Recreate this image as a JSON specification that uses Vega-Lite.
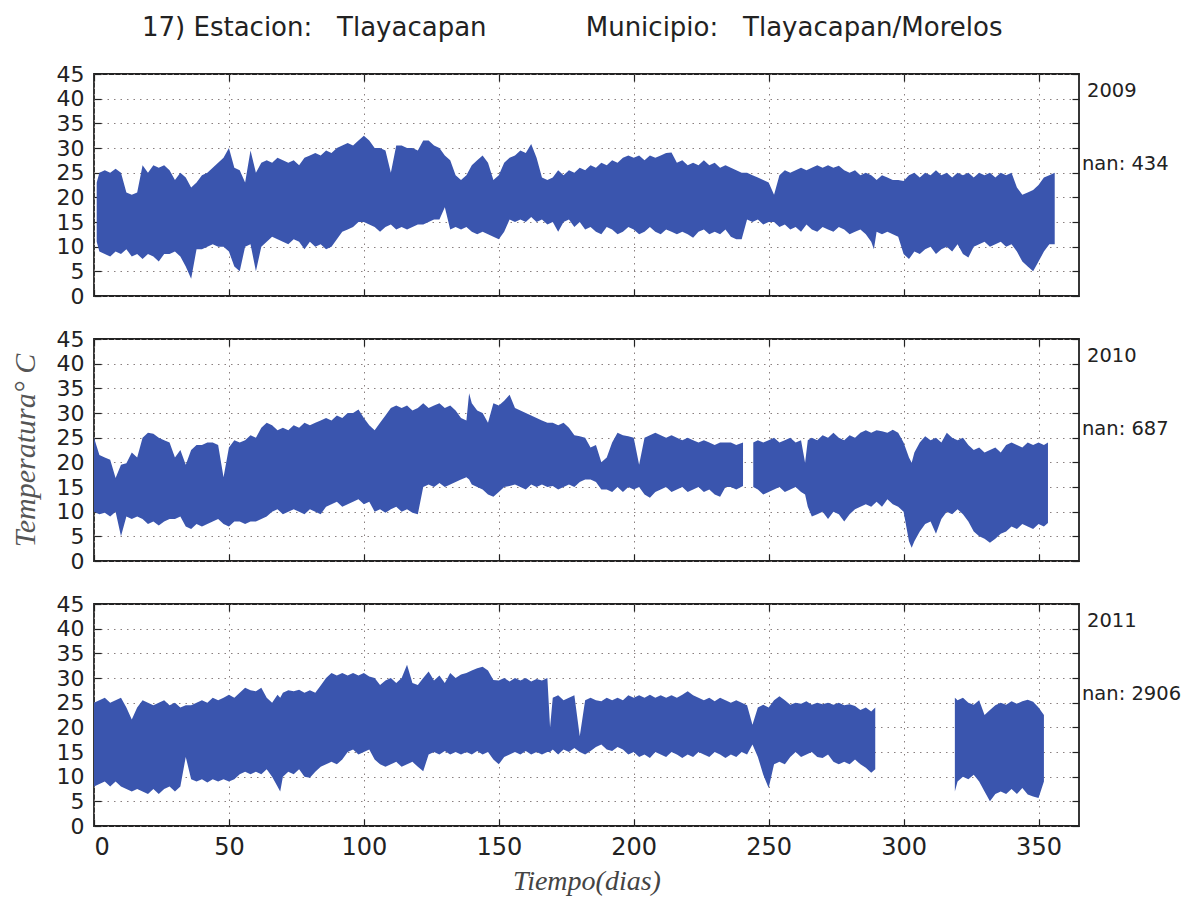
{
  "$schema": "https://vega.github.io/schema/vega-lite/v6.json",
  "padding": {"left": 9, "top": 15, "right": 5, "bottom": 2},
  "background": "white",
  "title": {
    "text": "17) Estacion:\u00a0\u00a0\u00a0Tlayacapan\u00a0\u00a0\u00a0\u00a0\u00a0\u00a0\u00a0\u00a0\u00a0\u00a0\u00a0\u00a0Municipio:\u00a0\u00a0\u00a0Tlayacapan/Morelos",
    "font": "DejaVu Sans",
    "fontSize": 26,
    "fontWeight": "normal",
    "color": "#222",
    "anchor": "start",
    "frame": "group",
    "dx": 48,
    "offset": 21
  },
  "spacing": 19,
  "config": {
    "view": {"stroke": "#222", "strokeWidth": 1.8},
    "axis": {
      "labelFont": "DejaVu Sans",
      "labelFontSize": 24,
      "labelColor": "#222",
      "tickColor": "#222",
      "tickWidth": 1.2,
      "gridColor": "#8a8080",
      "gridDash": [1.5, 5],
      "gridWidth": 1,
      "gridOpacity": 1,
      "domain": false
    }
  },
  "vconcat": [
    {
      "width": 985,
      "height": 222,
      "resolve": {"axis": {"x": "independent", "y": "independent"}},
      "layer": [
        {
          "data": {"values": [
{"d":1,"lo":11,"hi":23},{"d":2,"lo":9,"hi":25},{"d":4,"lo":8.5,"hi":25.5},{"d":6,"lo":8,"hi":25},{"d":8,"lo":9,"hi":25.8},{"d":10,"lo":8.5,"hi":25},{"d":12,"lo":9.5,"hi":21},{"d":14,"lo":8,"hi":20.5},{"d":16,"lo":8.5,"hi":21},{"d":18,"lo":7.5,"hi":26.5},{"d":20,"lo":8.5,"hi":25},{"d":22,"lo":8,"hi":26.5},{"d":24,"lo":7,"hi":26},{"d":26,"lo":8.5,"hi":26.5},{"d":28,"lo":8.5,"hi":25.5},{"d":30,"lo":9,"hi":23.5},{"d":32,"lo":8,"hi":25},{"d":34,"lo":6,"hi":24},{"d":36,"lo":3.5,"hi":22},{"d":38,"lo":9.5,"hi":23},{"d":40,"lo":9.5,"hi":24.5},{"d":42,"lo":10,"hi":25},{"d":44,"lo":10.5,"hi":26},{"d":46,"lo":10,"hi":27},{"d":48,"lo":10,"hi":28},{"d":50,"lo":9,"hi":30},{"d":52,"lo":6,"hi":26},{"d":54,"lo":5,"hi":25.5},{"d":56,"lo":10,"hi":23},{"d":58,"lo":10.5,"hi":29.5},{"d":60,"lo":5,"hi":25},{"d":62,"lo":10,"hi":27},{"d":64,"lo":11,"hi":27.5},{"d":66,"lo":12,"hi":27},{"d":68,"lo":11.5,"hi":28},{"d":70,"lo":11,"hi":27.5},{"d":72,"lo":10.5,"hi":27},{"d":74,"lo":11.5,"hi":27.5},{"d":76,"lo":11,"hi":26.5},{"d":78,"lo":9.5,"hi":28},{"d":80,"lo":11,"hi":28.5},{"d":82,"lo":10,"hi":29},{"d":84,"lo":10.5,"hi":28.5},{"d":86,"lo":9.5,"hi":29.5},{"d":88,"lo":10,"hi":29},{"d":90,"lo":11.5,"hi":30},{"d":92,"lo":13,"hi":30.5},{"d":94,"lo":13.5,"hi":31},{"d":96,"lo":14,"hi":30.5},{"d":98,"lo":15,"hi":31.5},{"d":100,"lo":15,"hi":32.5},{"d":102,"lo":14.5,"hi":31.5},{"d":104,"lo":14,"hi":30},{"d":106,"lo":13,"hi":30},{"d":108,"lo":14,"hi":29.5},{"d":110,"lo":14.5,"hi":25},{"d":112,"lo":13.5,"hi":30.5},{"d":114,"lo":14,"hi":30.5},{"d":116,"lo":13.5,"hi":30},{"d":118,"lo":14,"hi":30},{"d":120,"lo":14.5,"hi":29.5},{"d":122,"lo":14.5,"hi":31.5},{"d":124,"lo":15,"hi":31.5},{"d":126,"lo":15.5,"hi":30.5},{"d":128,"lo":15.5,"hi":30},{"d":130,"lo":18,"hi":28.5},{"d":132,"lo":13.5,"hi":27.5},{"d":134,"lo":14,"hi":24.5},{"d":136,"lo":13.5,"hi":23.5},{"d":138,"lo":14,"hi":24.5},{"d":140,"lo":13,"hi":26.5},{"d":142,"lo":12.5,"hi":27.5},{"d":144,"lo":13,"hi":28.5},{"d":146,"lo":12.5,"hi":27},{"d":148,"lo":12,"hi":23.5},{"d":150,"lo":11.5,"hi":24.5},{"d":152,"lo":13,"hi":27},{"d":154,"lo":15.5,"hi":28},{"d":156,"lo":15,"hi":28.5},{"d":158,"lo":15.5,"hi":29.5},{"d":160,"lo":15,"hi":29},{"d":162,"lo":16,"hi":30.8},{"d":164,"lo":15,"hi":28},{"d":166,"lo":15.5,"hi":24},{"d":168,"lo":14.5,"hi":23.5},{"d":170,"lo":15,"hi":24},{"d":172,"lo":13,"hi":25.5},{"d":174,"lo":15,"hi":24.5},{"d":176,"lo":15.5,"hi":25.5},{"d":178,"lo":14,"hi":25},{"d":180,"lo":15,"hi":26},{"d":182,"lo":13.5,"hi":25.5},{"d":184,"lo":14,"hi":26.5},{"d":186,"lo":13,"hi":26},{"d":188,"lo":12.5,"hi":27},{"d":190,"lo":14,"hi":26.5},{"d":192,"lo":13.5,"hi":27.5},{"d":194,"lo":12.5,"hi":27},{"d":196,"lo":13,"hi":28},{"d":198,"lo":14,"hi":28.5},{"d":200,"lo":13.5,"hi":28},{"d":202,"lo":12.5,"hi":28.5},{"d":204,"lo":13,"hi":27.5},{"d":206,"lo":14,"hi":28.5},{"d":208,"lo":13,"hi":28},{"d":210,"lo":12.5,"hi":28.5},{"d":212,"lo":13.5,"hi":29},{"d":214,"lo":13,"hi":29.1},{"d":216,"lo":12.5,"hi":27},{"d":218,"lo":13,"hi":27.5},{"d":220,"lo":12.5,"hi":26.5},{"d":222,"lo":11.8,"hi":27},{"d":224,"lo":13,"hi":26.5},{"d":226,"lo":13.5,"hi":27.5},{"d":228,"lo":12.5,"hi":26.5},{"d":230,"lo":13,"hi":27},{"d":232,"lo":12.5,"hi":26},{"d":234,"lo":13.5,"hi":26.5},{"d":236,"lo":12,"hi":26},{"d":238,"lo":11.5,"hi":25.5},{"d":240,"lo":11.5,"hi":25},{"d":242,"lo":15.5,"hi":25},{"d":244,"lo":15,"hi":24.5},{"d":246,"lo":15.5,"hi":24},{"d":248,"lo":14.5,"hi":23.5},{"d":250,"lo":15,"hi":23},{"d":252,"lo":15,"hi":20.5},{"d":254,"lo":14,"hi":24.5},{"d":256,"lo":14.5,"hi":25.5},{"d":258,"lo":13.5,"hi":25},{"d":260,"lo":14,"hi":25.5},{"d":262,"lo":13,"hi":26},{"d":264,"lo":14.5,"hi":25.5},{"d":266,"lo":13.5,"hi":26},{"d":268,"lo":13,"hi":26.5},{"d":270,"lo":14,"hi":26},{"d":272,"lo":13.5,"hi":26.5},{"d":274,"lo":13,"hi":26},{"d":276,"lo":14,"hi":26.4},{"d":278,"lo":13.5,"hi":25.5},{"d":280,"lo":12.5,"hi":25},{"d":282,"lo":13,"hi":25.5},{"d":284,"lo":13.5,"hi":24.5},{"d":286,"lo":12.5,"hi":25},{"d":288,"lo":11,"hi":24.5},{"d":289,"lo":9.5,"hi":24},{"d":290,"lo":13,"hi":23.5},{"d":292,"lo":12.5,"hi":24.5},{"d":294,"lo":13,"hi":24},{"d":296,"lo":12.5,"hi":23.5},{"d":298,"lo":12,"hi":23.5},{"d":300,"lo":8.5,"hi":23.3},{"d":302,"lo":7.5,"hi":24.5},{"d":304,"lo":9,"hi":25},{"d":306,"lo":8.5,"hi":24},{"d":308,"lo":9.5,"hi":25},{"d":310,"lo":10,"hi":24.5},{"d":312,"lo":8.5,"hi":25.5},{"d":314,"lo":9.5,"hi":24.5},{"d":316,"lo":10,"hi":25},{"d":318,"lo":9,"hi":24},{"d":320,"lo":10.5,"hi":25},{"d":322,"lo":8.5,"hi":24.5},{"d":324,"lo":7.8,"hi":25},{"d":326,"lo":10,"hi":24},{"d":328,"lo":10.5,"hi":25},{"d":330,"lo":11,"hi":24.5},{"d":332,"lo":10,"hi":25},{"d":334,"lo":10.5,"hi":24},{"d":336,"lo":11,"hi":25},{"d":338,"lo":10,"hi":24.5},{"d":340,"lo":10.5,"hi":25},{"d":342,"lo":9,"hi":22},{"d":344,"lo":7,"hi":20.5},{"d":346,"lo":6,"hi":21},{"d":348,"lo":5,"hi":21.5},{"d":350,"lo":7,"hi":22.5},{"d":352,"lo":9,"hi":24},{"d":354,"lo":10.5,"hi":24.5},{"d":356,"lo":10.5,"hi":25}
          ]},
          "mark": {"type": "area", "color": "#3a55ae", "opacity": 1},
          "encoding": {
            "x": {"field": "d", "type": "quantitative", "scale": {"domain": [0, 365], "nice": false, "zero": false},
                  "axis": {"values": [0,50,100,150,200,250,300,350], "labels": false, "tickSize": -7, "grid": true, "title": null}},
            "y": {"field": "lo", "type": "quantitative", "scale": {"domain": [0, 45], "nice": false},
                  "axis": {"values": [0,5,10,15,20,25,30,35,40,45], "tickSize": -7, "labelPadding": 17, "labelFontSize": 22, "grid": true, "title": null}},
            "y2": {"field": "hi"}
          }
        },
        {
          "data": {"values": [{"t": "2009", "v": 41.5}]},
          "mark": {"type": "text", "align": "left", "baseline": "middle", "dx": 8, "font": "DejaVu Sans", "fontSize": 19.5, "color": "#222"},
          "encoding": {
            "x": {"datum": 365, "type": "quantitative", "axis": {"orient": "top", "labels": false, "grid": false, "tickSize": -7, "values": [0,50,100,150,200,250,300,350], "title": null}},
            "y": {"field": "v", "type": "quantitative", "axis": {"orient": "right", "labels": false, "grid": false, "tickSize": -7, "values": [0,5,10,15,20,25,30,35,40,45], "title": null}},
            "text": {"field": "t"}
          }
        },
        {
          "data": {"values": [{"t": "nan: 434", "v": 26.7}]},
          "mark": {"type": "text", "align": "left", "baseline": "middle", "dx": 3, "font": "DejaVu Sans", "fontSize": 19.5, "color": "#222"},
          "encoding": {
            "x": {"datum": 365, "type": "quantitative", "axis": null},
            "y": {"field": "v", "type": "quantitative", "axis": null},
            "text": {"field": "t"}
          }
        }
      ]
    },
    {
      "width": 985,
      "height": 222,
      "resolve": {"axis": {"x": "independent", "y": "independent"}},
      "layer": [
        {
          "data": {"values": [
{"d":0,"lo":10,"hi":25,"s":1},{"d":2,"lo":9.5,"hi":21.5,"s":1},{"d":4,"lo":9.8,"hi":21,"s":1},{"d":6,"lo":9,"hi":20.5,"s":1},{"d":8,"lo":10,"hi":16.8,"s":1},{"d":10,"lo":5,"hi":19.5,"s":1},{"d":12,"lo":9,"hi":19.8,"s":1},{"d":14,"lo":8.5,"hi":22,"s":1},{"d":16,"lo":9,"hi":21,"s":1},{"d":18,"lo":8.5,"hi":25,"s":1},{"d":20,"lo":7.5,"hi":26,"s":1},{"d":22,"lo":8,"hi":25.8,"s":1},{"d":24,"lo":7.2,"hi":25,"s":1},{"d":26,"lo":8,"hi":24.5,"s":1},{"d":28,"lo":8.5,"hi":24,"s":1},{"d":30,"lo":8.5,"hi":21,"s":1},{"d":32,"lo":9,"hi":22.5,"s":1},{"d":34,"lo":7,"hi":19.5,"s":1},{"d":36,"lo":6.5,"hi":22.5,"s":1},{"d":38,"lo":7.5,"hi":23.5,"s":1},{"d":40,"lo":7,"hi":23.5,"s":1},{"d":42,"lo":7.5,"hi":24,"s":1},{"d":44,"lo":8,"hi":24,"s":1},{"d":46,"lo":8.5,"hi":23.5,"s":1},{"d":48,"lo":7.5,"hi":17,"s":1},{"d":50,"lo":7,"hi":23,"s":1},{"d":52,"lo":8,"hi":24.5,"s":1},{"d":54,"lo":8,"hi":24,"s":1},{"d":56,"lo":7.5,"hi":24.5,"s":1},{"d":58,"lo":8,"hi":25.5,"s":1},{"d":60,"lo":8,"hi":25,"s":1},{"d":62,"lo":8.5,"hi":27,"s":1},{"d":64,"lo":9,"hi":28,"s":1},{"d":66,"lo":10,"hi":27.5,"s":1},{"d":68,"lo":10.5,"hi":26.5,"s":1},{"d":70,"lo":9.5,"hi":27,"s":1},{"d":72,"lo":10,"hi":26.5,"s":1},{"d":74,"lo":10.5,"hi":27.5,"s":1},{"d":76,"lo":10,"hi":27,"s":1},{"d":78,"lo":9.5,"hi":28,"s":1},{"d":80,"lo":10.5,"hi":27.5,"s":1},{"d":82,"lo":10,"hi":28,"s":1},{"d":84,"lo":9.5,"hi":28.5,"s":1},{"d":86,"lo":11,"hi":29,"s":1},{"d":88,"lo":11.5,"hi":28.5,"s":1},{"d":90,"lo":12,"hi":29.5,"s":1},{"d":92,"lo":11,"hi":29,"s":1},{"d":94,"lo":11.5,"hi":30,"s":1},{"d":96,"lo":12,"hi":30,"s":1},{"d":98,"lo":12.5,"hi":30.7,"s":1},{"d":100,"lo":11.5,"hi":29,"s":1},{"d":102,"lo":12,"hi":27.5,"s":1},{"d":104,"lo":10,"hi":26.5,"s":1},{"d":106,"lo":10.5,"hi":28,"s":1},{"d":108,"lo":9.8,"hi":29.5,"s":1},{"d":110,"lo":10.5,"hi":31,"s":1},{"d":112,"lo":11,"hi":31.5,"s":1},{"d":114,"lo":10,"hi":31,"s":1},{"d":116,"lo":10.5,"hi":31.5,"s":1},{"d":118,"lo":9.8,"hi":30.5,"s":1},{"d":120,"lo":9.5,"hi":31,"s":1},{"d":122,"lo":15,"hi":32,"s":1},{"d":124,"lo":15.5,"hi":31,"s":1},{"d":126,"lo":15,"hi":31.5,"s":1},{"d":128,"lo":15.8,"hi":32,"s":1},{"d":130,"lo":15,"hi":31,"s":1},{"d":132,"lo":15.5,"hi":31.5,"s":1},{"d":134,"lo":16,"hi":30.5,"s":1},{"d":136,"lo":16.5,"hi":29,"s":1},{"d":138,"lo":17,"hi":28.5,"s":1},{"d":139,"lo":16.5,"hi":34,"s":1},{"d":140,"lo":15.5,"hi":32,"s":1},{"d":142,"lo":15,"hi":30.5,"s":1},{"d":144,"lo":14.5,"hi":30,"s":1},{"d":146,"lo":13.5,"hi":28,"s":1},{"d":148,"lo":13,"hi":32,"s":1},{"d":150,"lo":14,"hi":31.5,"s":1},{"d":152,"lo":15,"hi":32.5,"s":1},{"d":154,"lo":15.2,"hi":33.7,"s":1},{"d":156,"lo":15.5,"hi":31,"s":1},{"d":158,"lo":15,"hi":30.5,"s":1},{"d":160,"lo":14.5,"hi":30,"s":1},{"d":162,"lo":15.5,"hi":29.5,"s":1},{"d":164,"lo":15,"hi":29,"s":1},{"d":166,"lo":15.5,"hi":28.5,"s":1},{"d":168,"lo":15,"hi":28,"s":1},{"d":170,"lo":15.2,"hi":28,"s":1},{"d":172,"lo":14.5,"hi":27.5,"s":1},{"d":174,"lo":15,"hi":28,"s":1},{"d":176,"lo":15.5,"hi":27,"s":1},{"d":178,"lo":15,"hi":25.5,"s":1},{"d":180,"lo":16,"hi":25.3,"s":1},{"d":182,"lo":16.5,"hi":25,"s":1},{"d":184,"lo":16.5,"hi":23,"s":1},{"d":186,"lo":16,"hi":23.5,"s":1},{"d":188,"lo":14.5,"hi":20,"s":1},{"d":190,"lo":14.5,"hi":21,"s":1},{"d":192,"lo":14,"hi":24,"s":1},{"d":194,"lo":15,"hi":26,"s":1},{"d":196,"lo":14,"hi":25.5,"s":1},{"d":198,"lo":15,"hi":25.3,"s":1},{"d":200,"lo":14.5,"hi":25,"s":1},{"d":202,"lo":15,"hi":19.5,"s":1},{"d":204,"lo":13.5,"hi":25,"s":1},{"d":206,"lo":12.8,"hi":25.5,"s":1},{"d":208,"lo":14,"hi":26,"s":1},{"d":210,"lo":14.5,"hi":25.5,"s":1},{"d":212,"lo":15,"hi":25,"s":1},{"d":214,"lo":14,"hi":25.5,"s":1},{"d":216,"lo":14.5,"hi":25,"s":1},{"d":218,"lo":15,"hi":24.5,"s":1},{"d":220,"lo":14,"hi":25,"s":1},{"d":222,"lo":14.5,"hi":24.5,"s":1},{"d":224,"lo":15,"hi":24,"s":1},{"d":226,"lo":14,"hi":24.5,"s":1},{"d":228,"lo":14.5,"hi":24,"s":1},{"d":230,"lo":13.5,"hi":23.5,"s":1},{"d":232,"lo":13,"hi":24,"s":1},{"d":234,"lo":15,"hi":24,"s":1},{"d":236,"lo":15,"hi":24,"s":1},{"d":238,"lo":14.5,"hi":23.5,"s":1},{"d":240.5,"lo":15.2,"hi":24,"s":1},
{"d":244.3,"lo":15,"hi":24,"s":2},{"d":246,"lo":14.5,"hi":24.5,"s":2},{"d":248,"lo":13.5,"hi":24,"s":2},{"d":250,"lo":14,"hi":24.5,"s":2},{"d":252,"lo":14.5,"hi":25,"s":2},{"d":254,"lo":15,"hi":24,"s":2},{"d":256,"lo":14,"hi":24.5,"s":2},{"d":258,"lo":14.5,"hi":25,"s":2},{"d":260,"lo":15,"hi":24,"s":2},{"d":262,"lo":14,"hi":24.5,"s":2},{"d":263.5,"lo":13.5,"hi":19.9,"s":2},{"d":264.5,"lo":11,"hi":24.5,"s":2},{"d":266,"lo":9,"hi":25,"s":2},{"d":268,"lo":9.5,"hi":24.5,"s":2},{"d":270,"lo":10,"hi":25.5,"s":2},{"d":272,"lo":8.5,"hi":25,"s":2},{"d":274,"lo":10,"hi":26,"s":2},{"d":276,"lo":9.5,"hi":25,"s":2},{"d":278,"lo":8,"hi":24.5,"s":2},{"d":280,"lo":9.5,"hi":25.5,"s":2},{"d":282,"lo":10.5,"hi":25,"s":2},{"d":284,"lo":11,"hi":26,"s":2},{"d":286,"lo":11.5,"hi":26.5,"s":2},{"d":288,"lo":11,"hi":26,"s":2},{"d":290,"lo":12,"hi":26.5,"s":2},{"d":292,"lo":11,"hi":26.3,"s":2},{"d":294,"lo":12.5,"hi":26,"s":2},{"d":296,"lo":11.5,"hi":26.6,"s":2},{"d":298,"lo":11,"hi":26,"s":2},{"d":300,"lo":10,"hi":24,"s":2},{"d":302,"lo":4,"hi":21,"s":2},{"d":303,"lo":2.7,"hi":19.9,"s":2},{"d":304,"lo":4,"hi":22,"s":2},{"d":306,"lo":6,"hi":24,"s":2},{"d":308,"lo":7.5,"hi":25.3,"s":2},{"d":310,"lo":8,"hi":24.5,"s":2},{"d":312,"lo":5.5,"hi":25,"s":2},{"d":314,"lo":8.5,"hi":24,"s":2},{"d":316,"lo":10,"hi":26,"s":2},{"d":318,"lo":9.5,"hi":25,"s":2},{"d":320,"lo":10.5,"hi":24.5,"s":2},{"d":322,"lo":9.5,"hi":25,"s":2},{"d":324,"lo":8,"hi":23.5,"s":2},{"d":326,"lo":6,"hi":22.5,"s":2},{"d":328,"lo":5,"hi":23,"s":2},{"d":330,"lo":4.5,"hi":22,"s":2},{"d":332,"lo":3.7,"hi":22.5,"s":2},{"d":334,"lo":4.5,"hi":23,"s":2},{"d":336,"lo":5.5,"hi":22,"s":2},{"d":338,"lo":6,"hi":23.5,"s":2},{"d":340,"lo":7,"hi":24,"s":2},{"d":342,"lo":6.5,"hi":23.5,"s":2},{"d":344,"lo":7.5,"hi":23,"s":2},{"d":346,"lo":7,"hi":24,"s":2},{"d":348,"lo":6.5,"hi":23.5,"s":2},{"d":350,"lo":7.5,"hi":24,"s":2},{"d":352,"lo":7,"hi":23.5,"s":2},{"d":353.5,"lo":7.7,"hi":24,"s":2}
          ]},
          "mark": {"type": "area", "color": "#3a55ae", "opacity": 1},
          "encoding": {
            "x": {"field": "d", "type": "quantitative", "scale": {"domain": [0, 365], "nice": false, "zero": false},
                  "axis": {"values": [0,50,100,150,200,250,300,350], "labels": false, "tickSize": -7, "grid": true, "title": null}},
            "y": {"field": "lo", "type": "quantitative", "scale": {"domain": [0, 45], "nice": false},
                  "axis": {"values": [0,5,10,15,20,25,30,35,40,45], "tickSize": -7, "labelPadding": 17, "labelFontSize": 22, "grid": true,
                           "title": "Temperatura\u00b0 C", "titleFont": "Liberation Serif", "titleFontStyle": "italic", "titleFontWeight": "normal", "titleFontSize": 30, "titleColor": "#555", "titlePadding": 16}},
            "y2": {"field": "hi"},
            "detail": {"field": "s"}
          }
        },
        {
          "data": {"values": [{"t": "2010", "v": 41.5}]},
          "mark": {"type": "text", "align": "left", "baseline": "middle", "dx": 8, "font": "DejaVu Sans", "fontSize": 19.5, "color": "#222"},
          "encoding": {
            "x": {"datum": 365, "type": "quantitative", "axis": {"orient": "top", "labels": false, "grid": false, "tickSize": -7, "values": [0,50,100,150,200,250,300,350], "title": null}},
            "y": {"field": "v", "type": "quantitative", "axis": {"orient": "right", "labels": false, "grid": false, "tickSize": -7, "values": [0,5,10,15,20,25,30,35,40,45], "title": null}},
            "text": {"field": "t"}
          }
        },
        {
          "data": {"values": [{"t": "nan: 687", "v": 26.7}]},
          "mark": {"type": "text", "align": "left", "baseline": "middle", "dx": 3, "font": "DejaVu Sans", "fontSize": 19.5, "color": "#222"},
          "encoding": {
            "x": {"datum": 365, "type": "quantitative", "axis": null},
            "y": {"field": "v", "type": "quantitative", "axis": null},
            "text": {"field": "t"}
          }
        }
      ]
    },
    {
      "width": 985,
      "height": 222,
      "resolve": {"axis": {"x": "independent", "y": "independent"}},
      "layer": [
        {
          "data": {"values": [
{"d":0,"lo":8,"hi":25,"s":1},{"d":2,"lo":8.5,"hi":25.5,"s":1},{"d":4,"lo":9,"hi":26,"s":1},{"d":6,"lo":8,"hi":25,"s":1},{"d":8,"lo":9,"hi":25.5,"s":1},{"d":10,"lo":8,"hi":26,"s":1},{"d":12,"lo":7.5,"hi":24,"s":1},{"d":14,"lo":7,"hi":21.6,"s":1},{"d":16,"lo":7.5,"hi":24,"s":1},{"d":18,"lo":7,"hi":25.5,"s":1},{"d":20,"lo":6.5,"hi":25,"s":1},{"d":22,"lo":7.5,"hi":24.5,"s":1},{"d":24,"lo":6.5,"hi":25,"s":1},{"d":26,"lo":7.5,"hi":25.5,"s":1},{"d":28,"lo":8,"hi":24.5,"s":1},{"d":30,"lo":7,"hi":25,"s":1},{"d":32,"lo":8,"hi":24,"s":1},{"d":34,"lo":14,"hi":24.5,"s":1},{"d":36,"lo":9.5,"hi":24.5,"s":1},{"d":38,"lo":9,"hi":25,"s":1},{"d":40,"lo":9.5,"hi":25.5,"s":1},{"d":42,"lo":8.8,"hi":25,"s":1},{"d":44,"lo":9.5,"hi":26,"s":1},{"d":46,"lo":9,"hi":25.5,"s":1},{"d":48,"lo":9.5,"hi":26,"s":1},{"d":50,"lo":9,"hi":26.6,"s":1},{"d":52,"lo":9.5,"hi":26,"s":1},{"d":54,"lo":10.5,"hi":27,"s":1},{"d":56,"lo":11,"hi":28,"s":1},{"d":58,"lo":10.5,"hi":27.5,"s":1},{"d":60,"lo":11,"hi":27.3,"s":1},{"d":62,"lo":10.5,"hi":28,"s":1},{"d":64,"lo":11.5,"hi":26,"s":1},{"d":66,"lo":10,"hi":25,"s":1},{"d":68,"lo":8,"hi":26.6,"s":1},{"d":69,"lo":7,"hi":26,"s":1},{"d":70,"lo":10,"hi":27,"s":1},{"d":72,"lo":11,"hi":27.5,"s":1},{"d":74,"lo":10.5,"hi":27.3,"s":1},{"d":76,"lo":11.5,"hi":27.6,"s":1},{"d":78,"lo":10,"hi":27,"s":1},{"d":80,"lo":9.8,"hi":27.5,"s":1},{"d":82,"lo":11,"hi":27,"s":1},{"d":84,"lo":12,"hi":28.5,"s":1},{"d":86,"lo":12.5,"hi":30,"s":1},{"d":88,"lo":13,"hi":31,"s":1},{"d":90,"lo":12.5,"hi":30.5,"s":1},{"d":92,"lo":13.5,"hi":31,"s":1},{"d":94,"lo":15,"hi":30.5,"s":1},{"d":96,"lo":15.5,"hi":31,"s":1},{"d":98,"lo":14.5,"hi":30.5,"s":1},{"d":100,"lo":15,"hi":31,"s":1},{"d":102,"lo":15.5,"hi":30.3,"s":1},{"d":104,"lo":13.5,"hi":30,"s":1},{"d":106,"lo":12.5,"hi":28.6,"s":1},{"d":108,"lo":12,"hi":29.5,"s":1},{"d":110,"lo":12.5,"hi":30,"s":1},{"d":112,"lo":13,"hi":29,"s":1},{"d":114,"lo":12,"hi":30,"s":1},{"d":116,"lo":12.5,"hi":32.7,"s":1},{"d":118,"lo":13,"hi":29,"s":1},{"d":120,"lo":12,"hi":28.6,"s":1},{"d":122,"lo":11.1,"hi":30,"s":1},{"d":124,"lo":14.5,"hi":31.3,"s":1},{"d":126,"lo":15,"hi":29.5,"s":1},{"d":128,"lo":14.5,"hi":30.5,"s":1},{"d":130,"lo":15.2,"hi":29,"s":1},{"d":132,"lo":14.5,"hi":31,"s":1},{"d":134,"lo":15,"hi":30,"s":1},{"d":136,"lo":14.5,"hi":30.7,"s":1},{"d":138,"lo":15,"hi":31,"s":1},{"d":140,"lo":14.5,"hi":31.5,"s":1},{"d":142,"lo":15.2,"hi":32,"s":1},{"d":144,"lo":14.5,"hi":32.3,"s":1},{"d":146,"lo":15,"hi":31.5,"s":1},{"d":148,"lo":13.5,"hi":29.6,"s":1},{"d":150,"lo":12.5,"hi":29.5,"s":1},{"d":152,"lo":14,"hi":30,"s":1},{"d":154,"lo":14.5,"hi":29.3,"s":1},{"d":156,"lo":15,"hi":30,"s":1},{"d":158,"lo":14.5,"hi":29.5,"s":1},{"d":160,"lo":15.2,"hi":30,"s":1},{"d":162,"lo":14.5,"hi":29.3,"s":1},{"d":164,"lo":15,"hi":29.8,"s":1},{"d":166,"lo":14.5,"hi":29.5,"s":1},{"d":168,"lo":15,"hi":30,"s":1},{"d":169,"lo":15,"hi":20,"s":1},{"d":170,"lo":15.5,"hi":26,"s":1},{"d":172,"lo":14.5,"hi":26.5,"s":1},{"d":174,"lo":15.5,"hi":25.5,"s":1},{"d":176,"lo":15,"hi":26,"s":1},{"d":178,"lo":15.8,"hi":26.5,"s":1},{"d":180,"lo":15,"hi":18.2,"s":1},{"d":182,"lo":14.5,"hi":25.5,"s":1},{"d":184,"lo":15.2,"hi":26,"s":1},{"d":186,"lo":16,"hi":25.5,"s":1},{"d":188,"lo":16.5,"hi":25.3,"s":1},{"d":190,"lo":15.5,"hi":26,"s":1},{"d":192,"lo":15.2,"hi":25.5,"s":1},{"d":194,"lo":16,"hi":26,"s":1},{"d":196,"lo":15.5,"hi":25.5,"s":1},{"d":198,"lo":14.5,"hi":26.5,"s":1},{"d":200,"lo":15,"hi":26,"s":1},{"d":202,"lo":14,"hi":26.5,"s":1},{"d":204,"lo":14.5,"hi":26,"s":1},{"d":206,"lo":13.8,"hi":26.6,"s":1},{"d":208,"lo":15,"hi":26,"s":1},{"d":210,"lo":14.5,"hi":26.5,"s":1},{"d":212,"lo":14,"hi":26,"s":1},{"d":214,"lo":15,"hi":26.5,"s":1},{"d":216,"lo":14.5,"hi":26,"s":1},{"d":218,"lo":13.8,"hi":26.6,"s":1},{"d":220,"lo":14.5,"hi":27.3,"s":1},{"d":222,"lo":14,"hi":26.5,"s":1},{"d":224,"lo":15,"hi":26,"s":1},{"d":226,"lo":14.5,"hi":25.5,"s":1},{"d":228,"lo":14,"hi":26,"s":1},{"d":230,"lo":15,"hi":25.3,"s":1},{"d":232,"lo":14.5,"hi":26,"s":1},{"d":234,"lo":13.8,"hi":25.5,"s":1},{"d":236,"lo":14.5,"hi":25,"s":1},{"d":238,"lo":14,"hi":25.5,"s":1},{"d":240,"lo":15,"hi":25,"s":1},{"d":242,"lo":14.5,"hi":24.5,"s":1},{"d":244,"lo":16.5,"hi":20.5,"s":1},{"d":246,"lo":14,"hi":24,"s":1},{"d":248,"lo":10.4,"hi":24.6,"s":1},{"d":250,"lo":7.7,"hi":24,"s":1},{"d":252,"lo":12.5,"hi":25.5,"s":1},{"d":254,"lo":13,"hi":26.3,"s":1},{"d":256,"lo":12.5,"hi":25.5,"s":1},{"d":258,"lo":14,"hi":24.6,"s":1},{"d":260,"lo":15,"hi":25,"s":1},{"d":262,"lo":14,"hi":24.8,"s":1},{"d":264,"lo":14.5,"hi":25.3,"s":1},{"d":266,"lo":15,"hi":24.6,"s":1},{"d":268,"lo":14,"hi":25,"s":1},{"d":270,"lo":13.8,"hi":24.7,"s":1},{"d":272,"lo":14.5,"hi":25,"s":1},{"d":274,"lo":13,"hi":24.6,"s":1},{"d":276,"lo":12.5,"hi":25,"s":1},{"d":278,"lo":13,"hi":24.5,"s":1},{"d":280,"lo":12.5,"hi":24.7,"s":1},{"d":282,"lo":13.5,"hi":24.3,"s":1},{"d":284,"lo":12.5,"hi":23.5,"s":1},{"d":286,"lo":11.8,"hi":24,"s":1},{"d":288,"lo":10.8,"hi":23.2,"s":1},{"d":289.5,"lo":11.5,"hi":24,"s":1},
{"d":319,"lo":7,"hi":26,"s":2},{"d":320,"lo":9,"hi":25.5,"s":2},{"d":322,"lo":10,"hi":26,"s":2},{"d":324,"lo":9.5,"hi":25,"s":2},{"d":326,"lo":10.4,"hi":24.6,"s":2},{"d":328,"lo":9,"hi":25.5,"s":2},{"d":330,"lo":7,"hi":22.5,"s":2},{"d":332,"lo":5,"hi":23.5,"s":2},{"d":334,"lo":6.5,"hi":24.5,"s":2},{"d":336,"lo":7,"hi":25,"s":2},{"d":338,"lo":6.5,"hi":24.6,"s":2},{"d":340,"lo":7.5,"hi":25.3,"s":2},{"d":342,"lo":6.5,"hi":24.8,"s":2},{"d":344,"lo":7.7,"hi":25.3,"s":2},{"d":346,"lo":6.4,"hi":25.6,"s":2},{"d":348,"lo":6,"hi":25.2,"s":2},{"d":350,"lo":5.7,"hi":24,"s":2},{"d":352,"lo":9,"hi":22.5,"s":2}
          ]},
          "mark": {"type": "area", "color": "#3a55ae", "opacity": 1},
          "encoding": {
            "x": {"field": "d", "type": "quantitative", "scale": {"domain": [0, 365], "nice": false, "zero": false},
                  "axis": {"values": [0,50,100,150,200,250,300,350], "tickSize": -7, "labelPadding": 16, "grid": true,
                           "title": "Tiempo(dias)", "titleFont": "Liberation Serif", "titleFontStyle": "italic", "titleFontWeight": "normal", "titleFontSize": 28, "titleColor": "#444", "titlePadding": 8}},
            "y": {"field": "lo", "type": "quantitative", "scale": {"domain": [0, 45], "nice": false},
                  "axis": {"values": [0,5,10,15,20,25,30,35,40,45], "tickSize": -7, "labelPadding": 17, "labelFontSize": 22, "grid": true, "title": null}},
            "y2": {"field": "hi"},
            "detail": {"field": "s"}
          }
        },
        {
          "data": {"values": [{"t": "2011", "v": 41.5}]},
          "mark": {"type": "text", "align": "left", "baseline": "middle", "dx": 8, "font": "DejaVu Sans", "fontSize": 19.5, "color": "#222"},
          "encoding": {
            "x": {"datum": 365, "type": "quantitative", "axis": {"orient": "top", "labels": false, "grid": false, "tickSize": -7, "values": [0,50,100,150,200,250,300,350], "title": null}},
            "y": {"field": "v", "type": "quantitative", "axis": {"orient": "right", "labels": false, "grid": false, "tickSize": -7, "values": [0,5,10,15,20,25,30,35,40,45], "title": null}},
            "text": {"field": "t"}
          }
        },
        {
          "data": {"values": [{"t": "nan: 2906", "v": 26.7}]},
          "mark": {"type": "text", "align": "left", "baseline": "middle", "dx": 3, "font": "DejaVu Sans", "fontSize": 19.5, "color": "#222"},
          "encoding": {
            "x": {"datum": 365, "type": "quantitative", "axis": null},
            "y": {"field": "v", "type": "quantitative", "axis": null},
            "text": {"field": "t"}
          }
        }
      ]
    }
  ]
}
